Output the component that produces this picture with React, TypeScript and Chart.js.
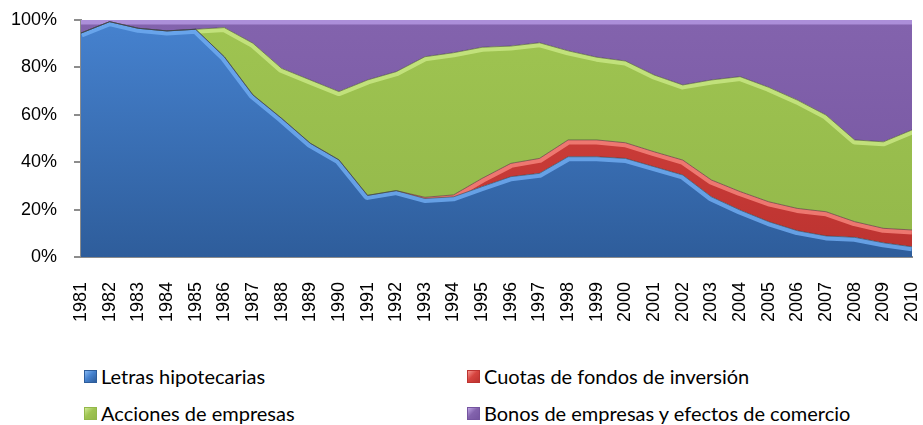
import React, { useEffect, useRef } from "react";
import { Chart, registerables } from "chart.js";
Chart.register(...registerables);

const years = [
  "1981", "1982", "1983", "1984", "1985", "1986", "1987", "1988", "1989", "1990",
  "1991", "1992", "1993", "1994", "1995", "1996", "1997", "1998", "1999", "2000",
  "2001", "2002", "2003", "2004", "2005", "2006", "2007", "2008", "2009", "2010",
];

const letras = [
  94.5, 99.3, 96.5, 95.4, 96.1, 84.5, 68.4, 58.5, 48.0, 41.0,
  26.0, 28.0, 24.7, 25.4, 29.7, 33.9, 35.3, 42.3, 42.3, 41.6,
  38.1, 34.6, 25.4, 19.8, 14.9, 11.1, 8.9, 8.3, 6.0, 4.3,
];
const cuotas = [
  0, 0, 0, 0, 0, 0, 0, 0, 0, 0,
  0, 0, 0.5, 0.8, 3.5, 5.6, 6.3, 7.1, 7.1, 6.6,
  6.3, 6.3, 7.1, 7.8, 8.4, 9.4, 10.2, 6.6, 6.1, 7.1,
];
const acciones = [
  0, 0, 0, 0, 0, 12.3, 21.8, 21.1, 26.7, 28.8,
  48.7, 50.2, 59.3, 60.0, 55.3, 49.5, 48.8, 37.6, 34.9, 34.5,
  32.4, 31.7, 42.2, 48.5, 48.3, 45.7, 40.8, 34.5, 36.5, 42.2,
];
const bonos = [
  5.5, 0.7, 3.5, 4.6, 3.9, 3.2, 9.8, 20.4, 25.3, 30.2,
  25.3, 21.8, 15.5, 13.8, 11.5, 11.0, 9.6, 13.0, 15.7, 17.3,
  23.2, 27.4, 25.3, 23.9, 28.4, 33.8, 40.1, 50.6, 51.4, 46.4,
];

const seriesNames = [
  "Letras hipotecarias",
  "Cuotas de fondos de inversión",
  "Acciones de empresas",
  "Bonos de empresas y efectos de comercio",
];
const seriesValues = [letras, cuotas, acciones, bonos];
const fillTop = ["#4682CF", "#D6443F", "#9FC451", "#8363AD"];
const fillBottom = ["#2E5D9B", "#BC3330", "#93B84A", "#7555A0"];
const highlight = [
  "rgba(110,170,240,0.85)",
  "rgba(245,130,122,0.85)",
  "rgba(200,230,130,0.85)",
  "rgba(180,150,225,0.85)",
];
const yTickValues = [0, 20, 40, 60, 80, 100];

const bevelPlugin = {
  id: "bevel",
  afterDatasetsDraw(chart: any) {
    const ctx = chart.ctx;
    const area = chart.chartArea;
    const metas = chart.data.datasets.map((_: any, i: number) => chart.getDatasetMeta(i));
    ctx.save();
    ctx.beginPath();
    ctx.rect(area.left, area.top, area.right - area.left, area.bottom - area.top);
    ctx.clip();
    metas.forEach((meta: any, i: number) => {
      const top = meta.data.map((p: any) => ({ x: p.x, y: p.y }));
      const bottom =
        i === 0
          ? top.map((p: any) => ({ x: p.x, y: area.bottom }))
          : metas[i - 1].data.map((p: any) => ({ x: p.x, y: p.y }));
      const trace = () => {
        ctx.beginPath();
        top.forEach((p: any, k: number) => (k ? ctx.lineTo(p.x, p.y) : ctx.moveTo(p.x, p.y)));
      };
      ctx.save();
      trace();
      for (let k = bottom.length - 1; k >= 0; k--) ctx.lineTo(bottom[k].x, bottom[k].y);
      ctx.closePath();
      ctx.clip();
      trace();
      ctx.strokeStyle = highlight[i];
      ctx.lineWidth = 9;
      ctx.lineJoin = "round";
      ctx.stroke();
      ctx.restore();
    });
    metas.forEach((meta: any, i: number) => {
      if (i === metas.length - 1) return;
      ctx.beginPath();
      meta.data.forEach((p: any, k: number) => (k ? ctx.lineTo(p.x, p.y) : ctx.moveTo(p.x, p.y)));
      ctx.strokeStyle = "rgba(60,60,60,0.55)";
      ctx.lineWidth = 1;
      ctx.stroke();
    });
    ctx.restore();
  },
};

const zeroPad = (s: any) => {
  s.paddingLeft = 0;
  s.paddingRight = 0;
  s.paddingTop = 0;
  s.paddingBottom = 0;
};

export default function App() {
  const ref = useRef<HTMLCanvasElement | null>(null);

  useEffect(() => {
    const canvas = ref.current;
    if (!canvas) return;
    const datasets = seriesValues.map((vals, i) => ({
      label: seriesNames[i],
      data: vals,
      fill: i === 0 ? "origin" : "-1",
      borderWidth: 0,
      pointRadius: 0,
      tension: 0,
      backgroundColor: (c: any) => {
        const a = c.chart.chartArea;
        if (!a) return fillTop[i];
        const g = c.chart.ctx.createLinearGradient(0, a.top, 0, a.bottom);
        g.addColorStop(0, fillTop[i]);
        g.addColorStop(1, fillBottom[i]);
        return g;
      },
    }));
    const chart = new Chart(canvas, {
      type: "line",
      data: { labels: years, datasets },
      plugins: [bevelPlugin],
      options: {
        animation: false,
        responsive: false,
        layout: { padding: { left: 0, right: 11, top: 20, bottom: 0 } },
        plugins: { legend: { display: false }, tooltip: { enabled: false } },
        scales: {
          x: {
            stacked: true,
            offset: false,
            afterFit: (s: any) => {
              s.height = 83;
              zeroPad(s);
            },
            grid: { display: true, drawOnChartArea: false, drawTicks: false },
            border: { display: true, color: "#8C8C8C", width: 2 },
            ticks: {
              autoSkip: false,
              maxRotation: 90,
              minRotation: 90,
              padding: 25,
              color: "#000",
              font: { family: "'Liberation Sans', Arial, sans-serif", size: 18 },
            },
          },
          y: {
            stacked: true,
            min: 0,
            max: 100,
            afterFit: (s: any) => {
              s.width = 81;
              zeroPad(s);
            },
            afterBuildTicks: (s: any) => {
              s.ticks = yTickValues.map((v) => ({ value: v }));
            },
            grid: { display: true, drawOnChartArea: false, drawTicks: true, tickLength: 7, color: "#8C8C8C", lineWidth: 2 },
            border: { display: true, color: "#8C8C8C", width: 2 },
            ticks: {
              padding: 17,
              color: "#000",
              font: { family: "'Liberation Sans', Arial, sans-serif", size: 18 },
              callback: (v: any) => v + "%",
            },
          },
        },
      },
    });
    return () => chart.destroy();
  }, []);

  const legendItem = (i: number, left: number, top: number) => (
    <div
      key={i}
      style={{
        position: "absolute",
        left,
        top,
        display: "flex",
        alignItems: "center",
        height: 26,
        whiteSpace: "nowrap",
      }}
    >
      <span
        style={{
          display: "inline-block",
          width: 13,
          height: 13,
          marginRight: 4,
          boxSizing: "border-box",
          background: `linear-gradient(135deg, ${highlight[i]}, ${fillTop[i]} 45%, ${fillBottom[i]})`,
          border: `1px solid ${fillBottom[i]}`,
        }}
      />
      <span style={{ fontFamily: "Lato, 'Open Sans', sans-serif", fontSize: 20, color: "#000" }}>
        {seriesNames[i]}
      </span>
    </div>
  );

  return (
    <div
      style={{
        position: "fixed",
        left: 0,
        top: 0,
        width: 923,
        height: 425,
        background: "#fff",
        overflow: "hidden",
      }}
    >
      <canvas ref={ref} width={923} height={340} style={{ display: "block" }} />
      {legendItem(0, 84, 363)}
      {legendItem(1, 467, 363)}
      {legendItem(2, 84, 400)}
      {legendItem(3, 467, 400)}
    </div>
  );
}
